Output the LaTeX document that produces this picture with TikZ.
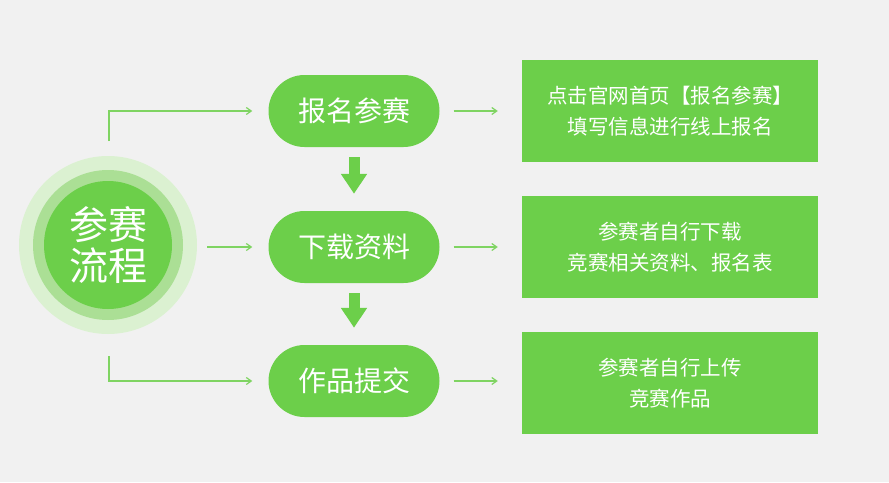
\documentclass[tikz,border=0pt]{standalone}
\usepackage{fontspec}
\setmainfont{Noto Sans CJK SC}
\usetikzlibrary{arrows.meta}
\definecolor{gr}{HTML}{6CCF4A}
\definecolor{ln}{HTML}{7FD462}
\definecolor{ringA}{HTML}{DBF1D1}
\definecolor{ringB}{HTML}{ABDF95}
\definecolor{bg}{HTML}{F1F1F1}
\tikzset{
  pill/.style={fill=gr, rounded corners=36pt, minimum width=171pt, minimum height=72pt, text=white, font=\fontsize{28}{30}\selectfont, inner sep=0pt},
  infobox/.style={fill=gr, minimum width=296pt, minimum height=102pt, text=white, font=\fontsize{20.5}{31}\selectfont, align=center, inner sep=0pt},
  thin/.style={draw=ln, line width=1.2pt, -{Straight Barb[length=5pt,width=7pt]}},
  blockarrow/.style={draw=gr, line width=11pt, -{Triangle[length=20pt,width=25pt]}}
}
\begin{document}
\begin{tikzpicture}[x=1pt,y=-1pt]
\fill[bg] (0,0) rectangle (889,482);
\useasboundingbox (0,0) rectangle (889,482);
% circle
\fill[ringA] (108,245) circle (89);
\fill[ringB] (108,245) circle (75);
\node[circle, fill=gr, minimum size=128pt, inner sep=0pt, text=white, align=center, font=\fontsize{39}{41}\selectfont] (c) at (108,245) {参赛\\流程};
% pills
\node[pill] (p1) at (354,111) {报名参赛};
\node[pill] (p2) at (354,247) {下载资料};
\node[pill] (p3) at (354,381) {作品提交};
% boxes
\node[infobox] (b1) at (670,111) {点击官网首页【报名参赛】\\填写信息进行线上报名};
\node[infobox] (b2) at (670,247) {参赛者自行下载\\竞赛相关资料、报名表};
\node[infobox] (b3) at (670,383) {参赛者自行上传\\竞赛作品};
% connectors
\coordinate (t0) at (109,141);
\coordinate (u0) at (109,356);
\draw[thin, shorten >=16pt] (t0) |- (p1.west);
\draw[thin, shorten >=16pt] (u0) |- (p3.west);
\draw[thin, shorten <=35pt, shorten >=16pt] (c.east |- p2.west) -- (p2.west);
\draw[thin, shorten <=14pt, shorten >=24pt] (p1.east) -- (b1.west |- p1.east);
\draw[thin, shorten <=14pt, shorten >=24pt] (p2.east) -- (b2.west |- p2.east);
\draw[thin, shorten <=14pt, shorten >=24pt] (p3.east) -- (b3.west |- p3.east);
% block arrows
\draw[blockarrow, shorten <=10pt, shorten >=17pt] (p1.south) -- (p2.north);
\draw[blockarrow, shorten <=10pt, shorten >=17pt] (p2.south) -- (p3.north);
\end{tikzpicture}
\end{document}
